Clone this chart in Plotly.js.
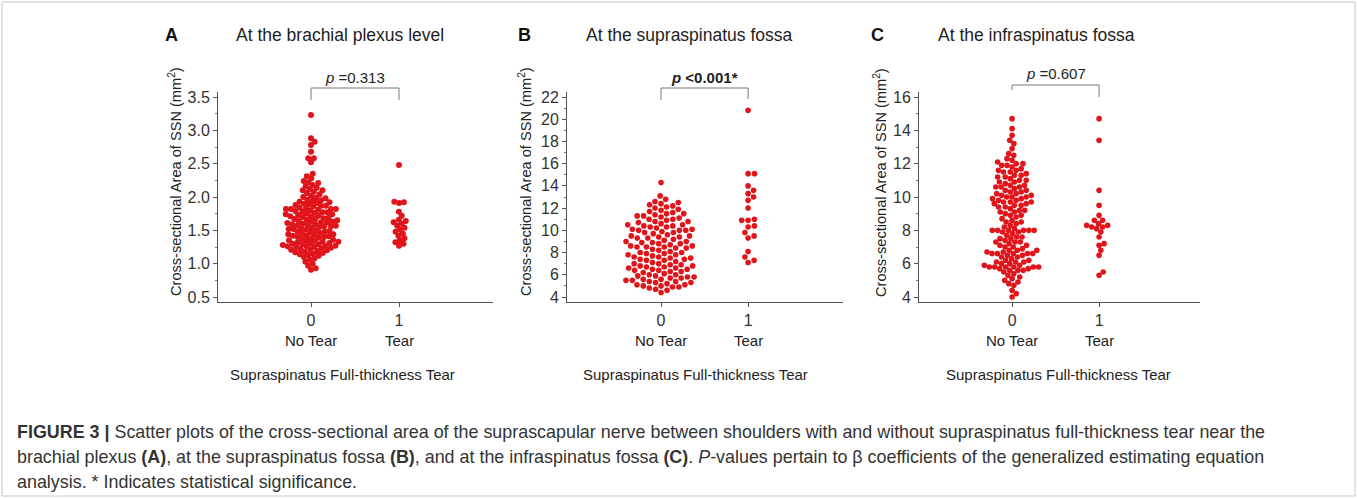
<!DOCTYPE html>
<html><head><meta charset="utf-8">
<script src="https://cdn.plot.ly/plotly-3.0.1.min.js"></script>
<style>html,body{margin:0;padding:0;background:#fff;}#chart{width:1357px;height:498px;}</style>
</head><body><div id="chart"></div>
<script>
// ---------------- DATA ----------------
const groupCodes = [0, 1];
const groupNames = ['No Tear', 'Tear'];
const panelLetters = ['A', 'B', 'C'];
const panelTitles = ['At the brachial plexus level', 'At the supraspinatus fossa', 'At the infraspinatus fossa'];
const pLabels = ['<i>p</i> =0.313', '<b><i>p</i> &lt;0.001*</b>', '<i>p</i> =0.607'];
const yTitle = 'Cross-sectional Area of SSN (mm<sup>2</sup>)';
const xTitle = 'Supraspinatus Full-thickness Tear';

const brachialNoTear = [3.23, 2.88, 2.83, 2.78, 2.68, 2.58, 2.58, 2.52, 2.35, 2.31, 2.28,
  2.24, 2.22, 2.21, 2.18, 2.16,
  2.14, 2.12, 2.1, 2.1, 2.08, 2.06,
  2.04, 2.02, 2.0, 1.99, 1.98, 1.96, 1.95,
  1.94, 1.93, 1.92, 1.91, 1.9, 1.89, 1.88, 1.87, 1.87, 1.86,
  1.84, 1.83, 1.82, 1.82, 1.82, 1.82, 1.81, 1.8,
  1.79, 1.78, 1.77, 1.77, 1.76, 1.75, 1.74, 1.74, 1.73, 1.72, 1.71, 1.71, 1.7,
  1.69, 1.68, 1.67, 1.67, 1.66, 1.65, 1.64, 1.63, 1.63, 1.62, 1.62, 1.61, 1.6,
  1.59, 1.59, 1.58, 1.57, 1.57, 1.56, 1.56, 1.55, 1.54, 1.53, 1.52, 1.52, 1.51, 1.5,
  1.49, 1.48, 1.48, 1.47, 1.46, 1.45, 1.44, 1.44, 1.43, 1.42, 1.42, 1.41, 1.4, 1.4,
  1.39, 1.38, 1.37, 1.36, 1.35, 1.34,
  1.34, 1.33, 1.33, 1.32, 1.31, 1.3, 1.3, 1.29, 1.29, 1.28, 1.27, 1.27, 1.26, 1.26, 1.25, 1.25,
  1.24, 1.23, 1.22, 1.21, 1.21, 1.2, 1.19, 1.18, 1.17, 1.16, 1.15,
  1.14, 1.13, 1.12, 1.1, 1.08, 1.06,
  1.03, 1.0, 0.97, 0.93, 0.91];
const brachialTear = [2.48, 1.93, 1.92, 1.91, 1.78, 1.72, 1.66, 1.64, 1.62, 1.6, 1.57,
  1.54, 1.51, 1.48, 1.45, 1.42, 1.38, 1.35, 1.32, 1.3, 1.27];

const supraNoTear = [14.3, 13.1, 12.8,
  12.6, 12.5, 12.4, 12.3,
  12.2, 12.1, 12.0, 11.9, 11.8, 11.7,
  11.6, 11.5, 11.5, 11.4, 11.3, 11.3, 11.2,
  11.1, 11.0, 11.0, 10.9, 10.8, 10.8, 10.7,
  10.6, 10.5, 10.5, 10.4, 10.4, 10.3, 10.3, 10.2,
  10.1, 10.1, 10.0, 10.0, 10.0, 9.9, 9.8, 9.8, 9.7,
  9.6, 9.5, 9.5, 9.4, 9.4, 9.3, 9.3, 9.2,
  9.1, 9.0, 9.0, 8.9, 8.9, 8.8, 8.8, 8.7,
  8.6, 8.6, 8.5, 8.5, 8.5, 8.4, 8.4, 8.3, 8.2,
  8.1, 8.0, 8.0, 7.9, 7.9, 7.8, 7.8, 7.7,
  7.6, 7.6, 7.5, 7.5, 7.4, 7.4, 7.3, 7.3, 7.2,
  7.1, 7.0, 7.0, 6.9, 6.9, 6.8, 6.8, 6.7, 6.7,
  6.6, 6.6, 6.5, 6.5, 6.4, 6.4, 6.3, 6.3, 6.2,
  6.1, 6.0, 6.0, 5.9, 5.9, 5.8, 5.8, 5.7, 5.7,
  5.6, 5.6, 5.5, 5.5, 5.4, 5.4, 5.3, 5.3, 5.2,
  5.1, 5.1, 5.0, 5.0, 4.9, 4.9, 4.8,
  4.7, 4.6, 4.4];
const supraTear = [20.8, 15.1, 15.1, 14.0, 13.6, 13.3, 13.0, 12.7, 12.0, 11.0, 10.9,
  10.9, 10.4, 10.3, 9.8, 9.5, 9.3, 8.1, 7.6, 7.3, 7.1];

const infraNoTear = [14.7, 14.1, 13.7, 13.4, 13.2, 12.9, 12.6, 12.5, 12.3, 12.2,
  12.1, 12.0, 12.0, 11.9, 11.9, 11.8,
  11.7, 11.6, 11.6, 11.5, 11.5,
  11.4, 11.3, 11.3, 11.2, 11.2,
  11.1, 11.0, 11.0, 10.9, 10.9,
  10.8, 10.7, 10.7, 10.6, 10.6, 10.6,
  10.5, 10.4, 10.4, 10.3, 10.3,
  10.2, 10.2, 10.1, 10.1, 10.0, 10.0, 10.0,
  9.9, 9.9, 9.8, 9.8, 9.7, 9.7, 9.7,
  9.6, 9.6, 9.5, 9.5, 9.4, 9.4,
  9.3, 9.2, 9.2, 9.1, 9.1,
  9.0, 8.9, 8.9, 8.8,
  8.7, 8.6, 8.5, 8.5,
  8.4, 8.3, 8.2,
  8.1, 8.0, 8.0, 8.0, 8.0, 8.0, 8.0, 7.9, 7.9,
  7.8, 7.7, 7.6, 7.6,
  7.5, 7.5, 7.4, 7.3, 7.3, 7.3,
  7.2, 7.1, 7.1, 7.0, 7.0,
  6.9, 6.8, 6.8, 6.8, 6.7, 6.7,
  6.6, 6.6, 6.6, 6.6, 6.6, 6.5, 6.5, 6.4, 6.4,
  6.3, 6.2, 6.2, 6.1, 6.1, 6.1,
  6.0, 6.0, 5.9, 5.9, 5.8, 5.8, 5.8, 5.8, 5.8, 5.8,
  5.7, 5.7, 5.6, 5.6, 5.6, 5.5,
  5.4, 5.3, 5.2, 5.1, 5.0, 4.9, 4.8, 4.7, 4.4, 4.2, 4.0];
const infraTear = [14.7, 13.4, 10.4, 9.5, 8.9, 8.6, 8.6, 8.4, 8.3, 8.3, 8.2, 8.2,
  8.1, 7.9, 7.6, 7.2, 7.1, 6.8, 6.5, 5.5, 5.3];

const yTickStep = [0.5, 2, 2];
const yTickStart = [0.5, 4, 4];
const yTickFormat = ['.1f', 'd', 'd'];

// ---------------- LAYOUT HELPERS ----------------
const W = 1357, H = 498;
const px = x => x / W;
const py = y => 1 - y / H;

const panels = [
  {no: brachialNoTear, tear: brachialTear, xpx: [218, 493], xr: [-1.057, 2.068], yr: [0.425, 3.575], gap: 4.9, msize: 6,
   letterX: 171, titleX: 340, yTitleX: 175, xTitleX: 342, pY: 77, br: [88, 100, 100]},
  {no: supraNoTear, tear: supraTear, xpx: [567, 843], xr: [-1.08, 2.09], yr: [3.55, 22.45], gap: 6.4, msize: 5.6,
   letterX: 524, titleX: 689, yTitleX: 525, xTitleX: 695, pY: 77, br: [88, 100, 99]},
  {no: infraNoTear, tear: infraTear, xpx: [919, 1200], xr: [-1.07, 2.16], yr: [3.7, 16.3], gap: 5.3, msize: 5.6,
   letterX: 878, titleX: 1036, yTitleX: 880, xTitleX: 1058, pY: 73, br: [85, 90, 97]}
];
const yTopPx = 92, yBotPx = 302;

function swarm(vals, pxPerY, pxPerX, d) {
  const idx = vals.map((v, i) => i).sort((a, b) => vals[a] - vals[b]);
  const placed = [];
  const offs = new Array(vals.length);
  for (const i of idx) {
    const y = vals[i] * pxPerY;
    const near = placed.filter(p => Math.abs(p.y - y) < d);
    const cands = [0];
    near.forEach(p => {
      const dx = Math.sqrt(d * d - (p.y - y) * (p.y - y));
      cands.push(p.x + dx, p.x - dx);
    });
    cands.sort((a, b) => Math.abs(a) - Math.abs(b));
    let chosen = 0;
    for (const c of cands) {
      if (near.every(p => (p.x - c) * (p.x - c) + (p.y - y) * (p.y - y) >= d * d - 1e-6)) { chosen = c; break; }
    }
    placed.push({x: chosen, y: y});
    offs[i] = chosen / pxPerX;
  }
  return offs;
}

const FONT = 'Liberation Sans, Arial, Helvetica, sans-serif';
const RED = '#e0151b';
const traces = [];
const layout = {
  width: W, height: H, margin: {l: 0, r: 0, t: 0, b: 0},
  paper_bgcolor: '#fff', plot_bgcolor: '#fff', showlegend: false,
  font: {family: FONT, color: '#222', size: 14},
  annotations: [], shapes: []
};

panels.forEach((p, k) => {
  const n = k === 0 ? '' : String(k + 1);
  const xa = 'xaxis' + n, ya = 'yaxis' + n;
  const xdom = [px(p.xpx[0]), px(p.xpx[1])];
  const ydom = [py(yBotPx), py(yTopPx)];
  const pxPerX = (p.xpx[1] - p.xpx[0]) / (p.xr[1] - p.xr[0]);
  const pxPerY = (yBotPx - yTopPx) / (p.yr[1] - p.yr[0]);
  [p.no, p.tear].forEach((vals, g) => {
    const offs = swarm(vals, pxPerY, pxPerX, p.gap);
    traces.push({
      type: 'scatter', mode: 'markers', xaxis: 'x' + n, yaxis: 'y' + n,
      x: vals.map((v, i) => groupCodes[g] + offs[i]), y: vals,
      marker: {color: RED, size: p.msize, line: {width: 0}}, cliponaxis: false, hoverinfo: 'y'
    });
  });
  layout[xa] = {
    domain: xdom, range: p.xr, anchor: 'y' + n, tickvals: groupCodes, ticktext: groupCodes.map(String),
    ticks: 'outside', ticklen: 4, tickcolor: '#555', showline: true, linecolor: '#555', linewidth: 1,
    showgrid: false, zeroline: false, tickfont: {size: 16, color: '#333'}, fixedrange: true
  };
  layout[ya] = {
    domain: ydom, range: p.yr, anchor: 'x' + n, tick0: yTickStart[k], dtick: yTickStep[k], tickformat: yTickFormat[k],
    ticks: 'outside', ticklen: 4, tickcolor: '#555', showline: true, linecolor: '#555', linewidth: 1,
    showgrid: false, zeroline: false, tickfont: {size: 16, color: '#333'}, fixedrange: true,
    minor: {dtick: yTickStep[k] / 2, ticks: 'outside', ticklen: 2, tickcolor: '#777', showgrid: false}
  };
  const A = layout.annotations;
  A.push({xref: 'paper', yref: 'paper', x: px(p.letterX), y: py(35), text: '<b>' + panelLetters[k] + '</b>',
    showarrow: false, xanchor: 'center', yanchor: 'middle', font: {size: 18, color: '#111'}});
  A.push({xref: 'paper', yref: 'paper', x: px(p.titleX), y: py(35), text: panelTitles[k],
    showarrow: false, xanchor: 'center', yanchor: 'middle', font: {size: 17.5, color: '#222'}});
  A.push({xref: 'paper', yref: 'paper', x: px(p.yTitleX), y: py(182), text: yTitle, textangle: -90,
    showarrow: false, xanchor: 'center', yanchor: 'middle', font: {size: 14.6, color: '#222'}});
  groupCodes.forEach((c, g) => A.push({xref: 'x' + n, yref: 'paper', x: c, y: py(340), text: groupNames[g],
    showarrow: false, xanchor: 'center', yanchor: 'middle', font: {size: 15, color: '#222'}}));
  A.push({xref: 'paper', yref: 'paper', x: px(p.xTitleX), y: py(374), text: xTitle,
    showarrow: false, xanchor: 'center', yanchor: 'middle', font: {size: 15, color: '#222'}});
  A.push({xref: 'x' + n, yref: 'paper', x: (groupCodes[0] + groupCodes[1]) / 2, y: py(p.pY), text: pLabels[k],
    showarrow: false, xanchor: 'center', yanchor: 'middle', font: {size: 15, color: '#222'}});
  layout.shapes.push({type: 'path', xref: 'x' + n, yref: 'paper',
    path: 'M ' + groupCodes[0] + ',' + py(p.br[1]) + ' L ' + groupCodes[0] + ',' + py(p.br[0]) +
          ' L ' + groupCodes[1] + ',' + py(p.br[0]) + ' L ' + groupCodes[1] + ',' + py(p.br[2]),
    line: {color: '#777', width: 1}});
});

// caption
const capFont = {size: 17.9, color: '#333'};
const captionLines = [
  '<b>FIGURE 3 |</b> Scatter plots of the cross-sectional area of the suprascapular nerve between shoulders with and without supraspinatus full-thickness tear near the',
  'brachial plexus <b>(A)</b>, at the supraspinatus fossa <b>(B)</b>, and at the infraspinatus fossa <b>(C)</b>. <i>P</i>-values pertain to β coefficients of the generalized estimating equation',
  'analysis. * Indicates statistical significance.'
];
const captionY = [432, 457, 482];
captionLines.forEach((t, i) => layout.annotations.push({xref: 'paper', yref: 'paper', x: px(15), y: py(captionY[i]),
  text: t, showarrow: false, xanchor: 'left', yanchor: 'middle', align: 'left', font: capFont}));

// frame
layout.shapes.push({type: 'rect', xref: 'paper', yref: 'paper', x0: px(2), x1: px(1355), y0: py(496), y1: py(2),
  line: {color: '#c8c8c8', width: 1}});

Plotly.newPlot('chart', traces, layout, {staticPlot: true, displayModeBar: false});
</script></body></html>
